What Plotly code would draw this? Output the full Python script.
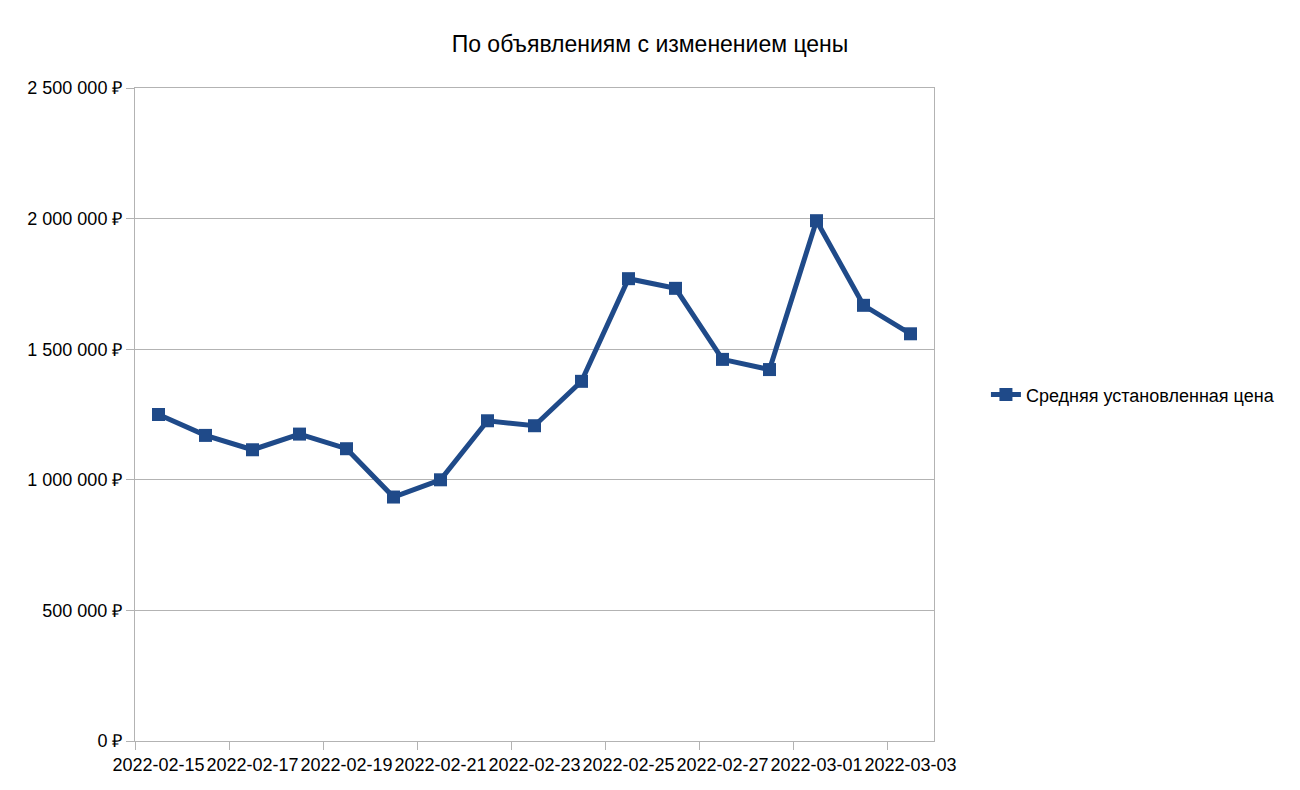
import plotly.graph_objects as go

dates = ["2022-02-15", "2022-02-16", "2022-02-17", "2022-02-18", "2022-02-19",
         "2022-02-20", "2022-02-21", "2022-02-22", "2022-02-23", "2022-02-24",
         "2022-02-25", "2022-02-26", "2022-02-27", "2022-02-28", "2022-03-01",
         "2022-03-02", "2022-03-03"]
avg_price = [1250000, 1170000, 1115000, 1175000, 1119000, 934000, 1000000,
             1226000, 1207000, 1377000, 1770000, 1733000, 1461000, 1422000,
             1992000, 1668000, 1559000]
series_name = "Средняя установленная цена"
title = "По объявлениям с изменением цены"
y_ticks = [0, 500000, 1000000, 1500000, 2000000, 2500000]


def rub(v):
    return "{:,}".format(v).replace(",", " ") + " ₽"


color = "#1f4a89"
fig = go.Figure()
fig.add_trace(go.Scatter(
    x=dates, y=avg_price, mode="lines+markers", name=series_name,
    line=dict(color=color, width=5),
    marker=dict(symbol="square", size=13, color=color),
))

font = "Liberation Sans, Arial, sans-serif"
fig.update_layout(
    width=1300, height=790,
    paper_bgcolor="white", plot_bgcolor="white",
    margin=dict(l=135, r=366, t=88, b=49),
    title=dict(text=title, x=0.5, xanchor="center", y=0.945, yanchor="middle",
               font=dict(family=font, size=23, color="black")),
    font=dict(family=font, size=18, color="black"),
    showlegend=True,
    legend=dict(x=1.065, y=0.53, xanchor="left", yanchor="middle",
                font=dict(family=font, size=18, color="black"),
                bgcolor="rgba(0,0,0,0)"),
)
fig.update_xaxes(
    type="category", range=[-0.5, len(dates) - 0.5],
    tickmode="linear", tick0=0, dtick=2, tickangle=0, automargin=False,
    tickson="boundaries", ticks="outside", ticklen=8, tickcolor="#b3b3b3",
    ticklabelstandoff=7,
    showgrid=False, showline=True, linecolor="#b3b3b3", linewidth=1, mirror=True,
    tickfont=dict(family=font, size=18, color="black"),
)
fig.update_yaxes(
    range=[0, 2500000], tickvals=y_ticks, ticktext=[rub(v) for v in y_ticks],
    ticks="outside", ticklen=8, tickcolor="#b3b3b3", automargin=False,
    showgrid=True, gridcolor="#b3b3b3", gridwidth=1, zeroline=False,
    showline=True, linecolor="#b3b3b3", linewidth=1, mirror=True,
    tickfont=dict(family=font, size=18, color="black"),
)
fig.write_html("out.html")
